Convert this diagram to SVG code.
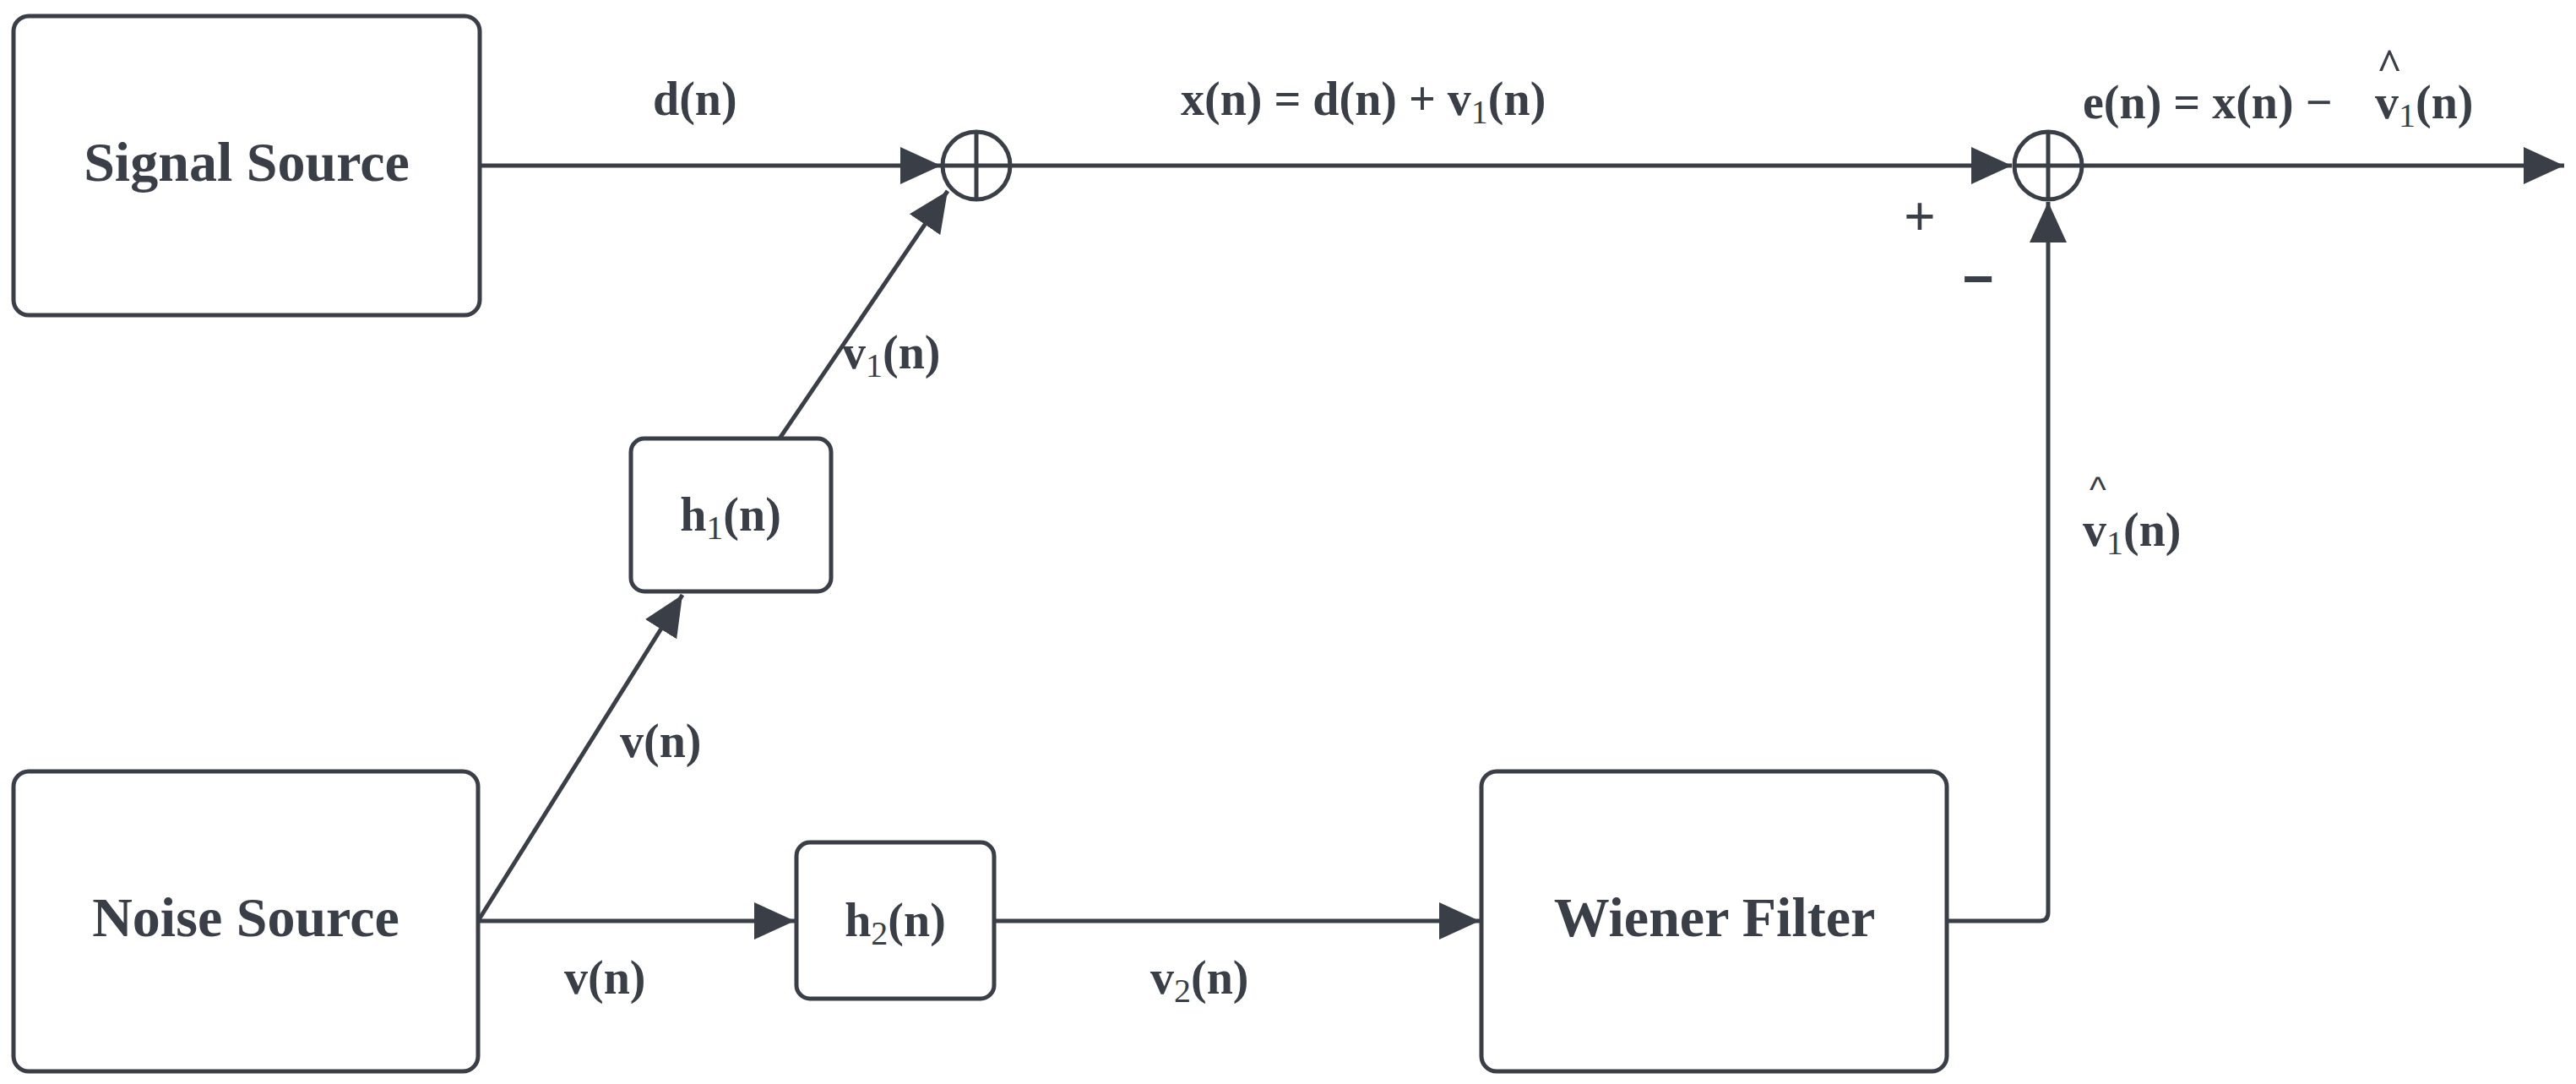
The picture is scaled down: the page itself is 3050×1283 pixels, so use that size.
<svg xmlns="http://www.w3.org/2000/svg" width="3050" height="1283" viewBox="0 0 3050 1283">
<style>
.b{fill:#fff;stroke:#3a3f47;stroke-width:5}
.t{font-family:"Liberation Serif",serif;font-weight:bold;fill:#3a3f47;font-size:66px}
.l{font-family:"Liberation Serif",serif;font-weight:bold;fill:#3a3f47;font-size:56px}
.s{font-size:40px;font-weight:normal}
.c{fill:none;stroke:#3a3f47;stroke-width:5}
</style>
<defs>
<marker id="a" markerUnits="userSpaceOnUse" markerWidth="50" markerHeight="44" refX="48" refY="22" orient="auto">
<path d="M0,0 L48,22 L0,44 Z" fill="#3a3f47"/>
</marker>
</defs>
<g id="connectors" class="c">
<line x1="568" y1="196" x2="1114" y2="196" marker-end="url(#a)"/>
<line x1="923" y1="519" x2="1122" y2="226" marker-end="url(#a)"/>
<line x1="1198" y1="196" x2="2382" y2="196" marker-end="url(#a)"/>
<line x1="2466" y1="196" x2="3036" y2="196" marker-end="url(#a)"/>
<path d="M2305,1090 L2415,1090 Q2425,1090 2425,1080 L2425,239" marker-end="url(#a)"/>
<line x1="566" y1="1090" x2="808" y2="704" marker-end="url(#a)"/>
<line x1="566" y1="1090" x2="941" y2="1090" marker-end="url(#a)"/>
<line x1="1177" y1="1090" x2="1752" y2="1090" marker-end="url(#a)"/>
</g>
<g id="signal"><rect class="b" x="16" y="19" width="552" height="354" rx="18"/><text class="t" x="292" y="214" text-anchor="middle">Signal Source</text></g>
<g id="noise"><rect class="b" x="16" y="913" width="550" height="355" rx="18"/><text class="t" x="291" y="1108" text-anchor="middle">Noise Source</text></g>
<g id="wiener"><rect class="b" x="1754" y="913" width="551" height="355" rx="18"/><text class="t" x="2030" y="1108" text-anchor="middle">Wiener Filter</text></g>
<g id="h1"><rect class="b" x="747" y="519" width="237" height="181" rx="16"/><text class="l" x="865" y="628" text-anchor="middle">h<tspan class="s" dy="10">1</tspan><tspan dy="-10">(n)</tspan></text></g>
<g id="h2"><rect class="b" x="943" y="997" width="234" height="185" rx="16"/><text class="l" x="1060" y="1108" text-anchor="middle">h<tspan class="s" dy="10">2</tspan><tspan dy="-10">(n)</tspan></text></g>
<g id="sum1"><circle class="c" cx="1156" cy="196" r="40"/><line class="c" x1="1116" y1="196" x2="1196" y2="196"/><line class="c" x1="1156" y1="156" x2="1156" y2="236"/></g>
<g id="sum2"><circle class="c" cx="2425" cy="196" r="40"/><line class="c" x1="2385" y1="196" x2="2465" y2="196"/><line class="c" x1="2425" y1="156" x2="2425" y2="236"/></g>
<g id="labels">
<text class="l" x="773" y="136">d(n)</text>
<text class="l" x="1398" y="136">x(n) = d(n) + v<tspan class="s" dy="10">1</tspan><tspan dy="-10">(n)</tspan></text>
<text class="l" x="2466" y="140">e(n) = x(n) −</text>
<text class="l" x="2812" y="140">v<tspan class="s" dy="10">1</tspan><tspan dy="-10">(n)</tspan></text>
<text class="l" x="2814" y="94" style="font-size:52px">^</text>
<text class="l" x="997" y="436">v<tspan class="s" dy="10">1</tspan><tspan dy="-10">(n)</tspan></text>
<text class="l" x="734" y="896">v(n)</text>
<text class="l" x="668" y="1176">v(n)</text>
<text class="l" x="1362" y="1176">v<tspan class="s" dy="10">2</tspan><tspan dy="-10">(n)</tspan></text>
<text class="l" x="2466" y="646">v<tspan class="s" dy="10">1</tspan><tspan dy="-10">(n)</tspan></text>
<text x="2474" y="594" style="font-family:'Liberation Sans',sans-serif;font-size:42px;fill:#3a3f47">^</text>
<text x="2273" y="278" text-anchor="middle" style="font-family:'Liberation Sans',sans-serif;font-size:64px;fill:#3a3f47">+</text>
<text x="2342" y="352" text-anchor="middle" style="font-family:'Liberation Sans',sans-serif;font-size:64px;font-weight:bold;fill:#3a3f47">−</text>
</g>
</svg>
